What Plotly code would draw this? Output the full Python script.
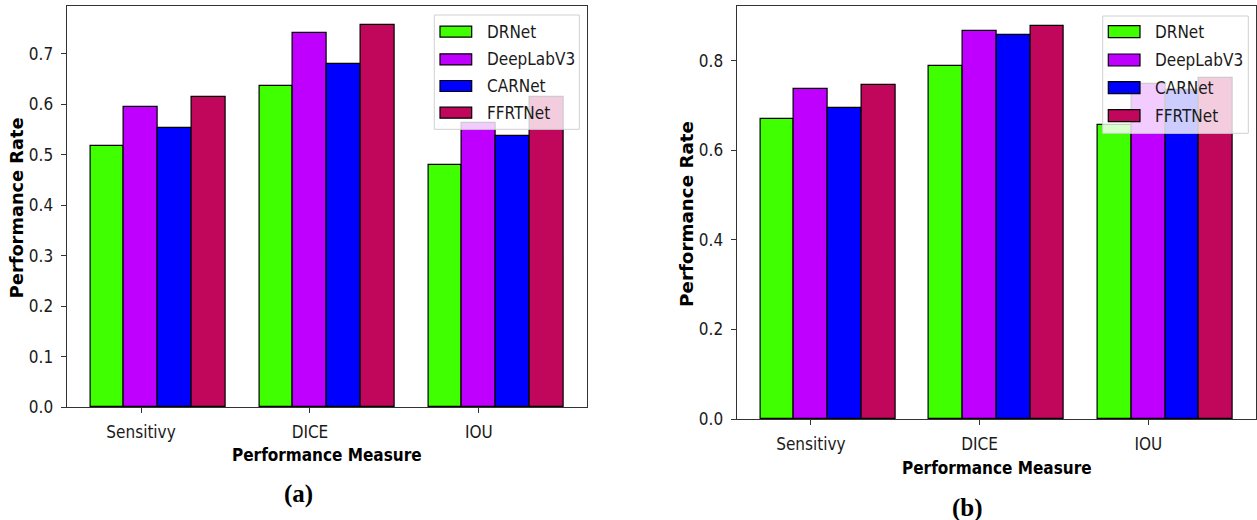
import plotly.graph_objects as go

W, H = 1257, 520

categories = ["Sensitivy", "DICE", "IOU"]
models = ["DRNet", "DeepLabV3", "CARNet", "FFRTNet"]
colors = ["#40FF00", "#BF00FF", "#0000FF", "#C0075C"]

# panel (a)
a_drnet = [0.518, 0.636, 0.480]
a_deeplab = [0.595, 0.741, 0.563]
a_carnet = [0.553, 0.680, 0.538]
a_ffrtnet = [0.615, 0.757, 0.615]

# panel (b)
b_drnet = [0.670, 0.788, 0.657]
b_deeplab = [0.737, 0.865, 0.748]
b_carnet = [0.694, 0.857, 0.735]
b_ffrtnet = [0.745, 0.878, 0.762]

panel_a = [a_drnet, a_deeplab, a_carnet, a_ffrtnet]
panel_b = [b_drnet, b_deeplab, b_carnet, b_ffrtnet]

BW = 0.2
TICK_FONT = dict(family="DejaVu Sans Condensed, Liberation Sans, sans-serif", size=17, color="#1a1a1a")
BOLD_FONT = dict(family="DejaVu Sans Condensed, Liberation Sans, sans-serif", size=17, color="#000000", weight="bold")


def px(x):
    return x / W


def py(y):
    return 1 - y / H


fig = go.Figure()

panels = [
    dict(vals=panel_a, xa="x", ya="y", xdom=(66.7, 587.0), ytop=6, ybot=407,
         ytitle_x=16.7, ytitle_size=17.8, xtitle_y=454.5, cap="(a)", cap_xy=(298, 494),
         leg=dict(box=(434.3, 15, 579.3, 129.3), sw=(440, 471.7), rows=[31.7, 59.3, 86.0, 112.7], tx=485, swh=11),
         dtick=0.1),
    dict(vals=panel_b, xa="x2", ya="y2", xdom=(736.7, 1256.3), ytop=6, ybot=419,
         ytitle_x=686.4, ytitle_size=18.3, xtitle_y=467.5, cap="(b)", cap_xy=(967.5, 507.5),
         leg=dict(box=(1102.7, 16, 1248.3, 133.3), sw=(1108.3, 1140.0), rows=[31.7, 60.0, 87.7, 115.7], tx=1152.7, swh=12),
         dtick=0.2),
]

shapes = []
annotations = []

for p in panels:
    vals = p["vals"]
    for k, (name, col, series) in enumerate(zip(models, colors, vals)):
        xs = [i + k * BW for i in range(len(categories))]
        fig.add_trace(go.Bar(
            x=xs, y=series, width=BW, name=name, showlegend=False,
            marker=dict(color=col, line=dict(color="#000000", width=1.2)),
            xaxis=p["xa"], yaxis=p["ya"],
        ))
    lo = -BW / 2
    hi = (len(categories) - 1) + (len(models) - 1) * BW + BW / 2
    pad = 0.05 * (hi - lo)
    ymax = max(max(s) for s in vals) * 1.05
    xkey = "xaxis" if p["xa"] == "x" else "xaxis2"
    ykey = "yaxis" if p["ya"] == "y" else "yaxis2"
    fig.layout[xkey] = dict(
        domain=[px(p["xdom"][0]), px(p["xdom"][1])], anchor=p["ya"],
        range=[lo - pad, hi + pad],
        tickmode="array", tickvals=[i + BW for i in range(len(categories))], ticktext=categories,
        showline=True, linecolor="#333333", linewidth=1.3, mirror=True,
        ticks="outside", ticklen=5, tickcolor="#333333", tickwidth=1.2,
        showgrid=False, zeroline=False, tickfont=TICK_FONT, ticklabelstandoff=4,
        automargin=False,
    )
    fig.layout[ykey] = dict(
        domain=[py(p["ybot"]), py(p["ytop"])], anchor=p["xa"],
        range=[0, ymax], dtick=p["dtick"], tickformat=".1f",
        showline=True, linecolor="#333333", linewidth=1.3, mirror=True,
        ticks="outside", ticklen=5, tickcolor="#333333", tickwidth=1.2,
        showgrid=False, zeroline=False, tickfont=TICK_FONT, ticklabelstandoff=4,
        automargin=False,
    )
    xc = (p["xdom"][0] + p["xdom"][1]) / 2
    annotations.append(dict(
        text="Performance Measure", x=px(xc), y=py(p["xtitle_y"]), xref="paper", yref="paper",
        xanchor="center", yanchor="middle", showarrow=False, font=BOLD_FONT,
    ))
    annotations.append(dict(
        text="Performance Rate", x=px(p["ytitle_x"]), y=py((p["ytop"] + p["ybot"]) / 2 + 1),
        xref="paper", yref="paper", xanchor="center", yanchor="middle", showarrow=False,
        textangle=-90,
        font=dict(family="DejaVu Sans, sans-serif", size=p["ytitle_size"], color="#000000", weight="bold"),
    ))
    annotations.append(dict(
        text=p["cap"], x=px(p["cap_xy"][0]), y=py(p["cap_xy"][1]), xref="paper", yref="paper",
        xanchor="center", yanchor="middle", showarrow=False,
        font=dict(family="Liberation Serif, Times New Roman, serif", size=25, color="#000000", weight="bold"),
    ))
    # legend (drawn manually to match matplotlib style)
    lg = p["leg"]
    x0, y0, x1, y1 = lg["box"]
    shapes.append(dict(type="rect", xref="paper", yref="paper",
                       x0=px(x0), x1=px(x1), y0=py(y1), y1=py(y0),
                       fillcolor="rgba(255,255,255,0.8)", line=dict(color="#d0d0d0", width=1), layer="above"))
    for name, col, ry in zip(models, colors, lg["rows"]):
        shapes.append(dict(type="rect", xref="paper", yref="paper",
                           x0=px(lg["sw"][0]), x1=px(lg["sw"][1]),
                           y0=py(ry + lg["swh"] / 2), y1=py(ry - lg["swh"] / 2),
                           fillcolor=col, line=dict(color="#000000", width=1.2), layer="above"))
        annotations.append(dict(
            text=name, x=px(lg["tx"]), y=py(ry), xref="paper", yref="paper",
            xanchor="left", yanchor="middle", showarrow=False, font=TICK_FONT,
        ))

fig.update_layout(
    width=W, height=H, margin=dict(l=0, r=0, t=0, b=0, autoexpand=False),
    paper_bgcolor="white", plot_bgcolor="white",
    shapes=shapes, annotations=annotations, showlegend=False,
    bargap=0,
)

fig.write_html("out.html")
